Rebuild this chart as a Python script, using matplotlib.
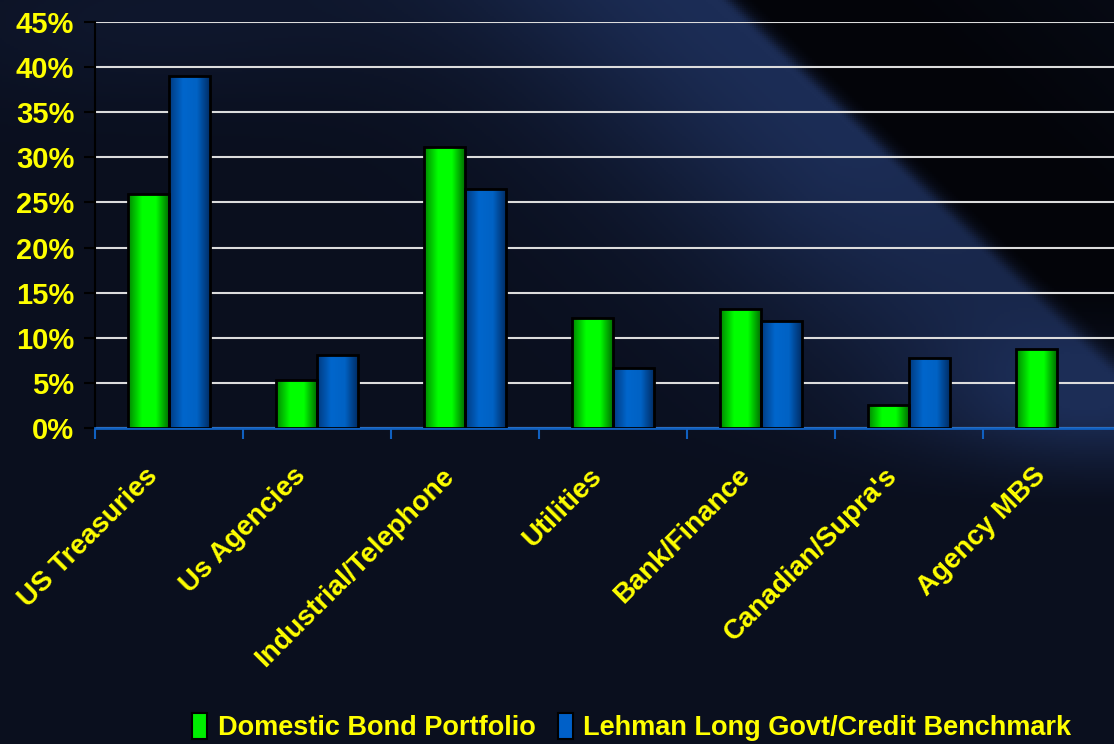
import numpy as np
import matplotlib
matplotlib.use("Agg")
import matplotlib.pyplot as plt
from matplotlib.colors import LinearSegmentedColormap
from matplotlib.patches import Patch
from matplotlib.transforms import ScaledTranslation

categories = ["US Treasuries", "Us Agencies", "Industrial/Telephone", "Utilities",
              "Bank/Finance", "Canadian/Supra's", "Agency MBS"]
portfolio = [25.9, 5.3, 31.2, 12.2, 13.2, 2.5, 8.8]
benchmark = [39.0, 8.1, 26.5, 6.7, 11.9, 7.8, 0.0]
series_names = ["Domestic Bond Portfolio", "Lehman Long Govt/Credit Benchmark"]
yticks = [0, 5, 10, 15, 20, 25, 30, 35, 40, 45]

YELLOW = "#ffff00"
W, H = 1114, 744
fig = plt.figure(figsize=(W / 100, H / 100), dpi=100)

# background: dark navy with a soft diagonal sweep ending in a sharp dark edge
bg = fig.add_axes([0, 0, 1, 1])
bg.axis("off")
yy, xx = np.mgrid[0:H:2, 0:W:2].astype(float)
p0 = np.array([717.0, 0.0])
d = np.array([296.0, 283.0])
d /= np.linalg.norm(d)
n = np.array([d[1], -d[0]])  # points toward top-right corner
s = (xx - p0[0]) * n[0] + (yy - p0[1]) * n[1]
t = (xx - p0[0]) * d[0] + (yy - p0[1]) * d[1]
band = np.where(s > 0, np.exp(-(s / 12) ** 2), np.exp(-(s / 190) ** 2))
band *= np.clip(1.0 - (t - 200) / 900, 0.45, 1.0)
band *= np.clip(1.0 - (yy - 420) / 80, 0.0, 1.0)
dark = np.clip(s / 25, 0, 1) * np.clip(1.0 - (s - 120) / 300, 0.3, 1) * np.clip(1.0 - (yy - 280) / 150, 0, 1)
glow_tl = np.exp(-(((xx - 150) / 250) ** 2 + ((yy - 20) / 80) ** 2)) * 0.25
glow_br = np.exp(-(((xx - 1080) / 140) ** 2 + ((yy - 390) / 70) ** 2)) * 0.45
base = np.array([10, 15, 30]) / 255
peak = np.array([28, 45, 86]) / 255
blackish = np.array([3, 4, 9]) / 255
amt = np.clip(band + glow_tl + glow_br, 0, 1)[..., None]
img = base * (1 - amt) + peak * amt
k = (dark * (1 - band))[..., None]
img = img * (1 - k) + blackish * k
bg.imshow(np.clip(img, 0, 1), aspect="auto", extent=[0, 1, 0, 1], zorder=0)
bg.set_xlim(0, 1)
bg.set_ylim(0, 1)

ax = fig.add_axes([95 / W, 316 / H, 1036 / W, 406 / H])
ax.set_facecolor("none")

x = np.arange(len(categories))
bw = 0.28
b1 = ax.bar(x - bw / 2, portfolio, bw, color="#00ee00", edgecolor="black", linewidth=2, zorder=3)
b2 = ax.bar(x + bw / 2, benchmark, bw, color="#0060c8", edgecolor="black", linewidth=2, zorder=3)

green_cm = LinearSegmentedColormap.from_list("g", ["#008800", "#00ff00", "#00ff00", "#006600"])
blue_cm = LinearSegmentedColormap.from_list("b", ["#003a80", "#0066cc", "#0062c4", "#002a60"])
grad = np.linspace(0, 1, 64).reshape(1, -1)
for bars, cm in ((b1, green_cm), (b2, blue_cm)):
    for p in bars:
        if p.get_height() <= 0:
            p.set_visible(False)
            continue
        x0, y0 = p.get_x(), p.get_y()
        im = ax.imshow(grad, cmap=cm, aspect="auto", zorder=3.5,
                       extent=[x0, x0 + p.get_width(), y0, y0 + p.get_height()])
        im.set_clip_path(p)
        p.set_facecolor("none")
        p.set_zorder(4)

ax.set_xlim(-0.5, len(categories) - 0.5)
ax.set_ylim(0, 45)
ax.set_yticks(yticks)
ax.set_yticklabels([f"{v}%" for v in yticks])
ax.yaxis.grid(True, color="#dcdcdc", linewidth=1.5, zorder=1)
ax.set_axisbelow(True)

ax.set_xticks(np.arange(len(categories) + 1) - 0.5, minor=False)
ax.set_xticklabels([])
ax.set_xticks(x, minor=True)
ax.set_xticklabels(categories, minor=True, rotation=45, ha="right", va="center",
                   rotation_mode="anchor", color=YELLOW, fontsize=20,
                   fontweight="bold", family="Liberation Sans")
ax.tick_params(axis="x", which="minor", length=0, pad=0)
ax.tick_params(axis="x", which="major", length=8, color="#1060c0", width=1.5)
ax.tick_params(axis="y", length=8, color="black", width=1.5, labelsize=21,
               labelcolor=YELLOW, pad=7)
for lab in ax.get_yticklabels():
    lab.set_fontweight("bold")
    lab.set_family("Liberation Sans")
shift = ScaledTranslation(-15 / 100, -44 / 100, fig.dpi_scale_trans)
for lab in ax.get_xticklabels(minor=True):
    lab.set_transform(lab.get_transform() + shift)

for side in ("top", "right"):
    ax.spines[side].set_visible(False)
ax.spines["left"].set_color("black")
ax.spines["left"].set_linewidth(1.5)
ax.spines["bottom"].set_color("#1060c0")
ax.spines["bottom"].set_linewidth(2)

handles = [Patch(facecolor="#00ee00", edgecolor="black", linewidth=1.5),
           Patch(facecolor="#0060c8", edgecolor="black", linewidth=1.5)]
leg = fig.legend(handles, series_names, loc="center", bbox_to_anchor=(632 / W, 1 - 727 / H),
                 ncol=2, frameon=False, handlelength=0.55, handleheight=1.1,
                 handletextpad=0.4, columnspacing=0.8,
                 prop={"family": "Liberation Sans", "weight": "bold", "size": 19.5})
for txt in leg.get_texts():
    txt.set_color(YELLOW)

fig.savefig("out.png", dpi=100)
